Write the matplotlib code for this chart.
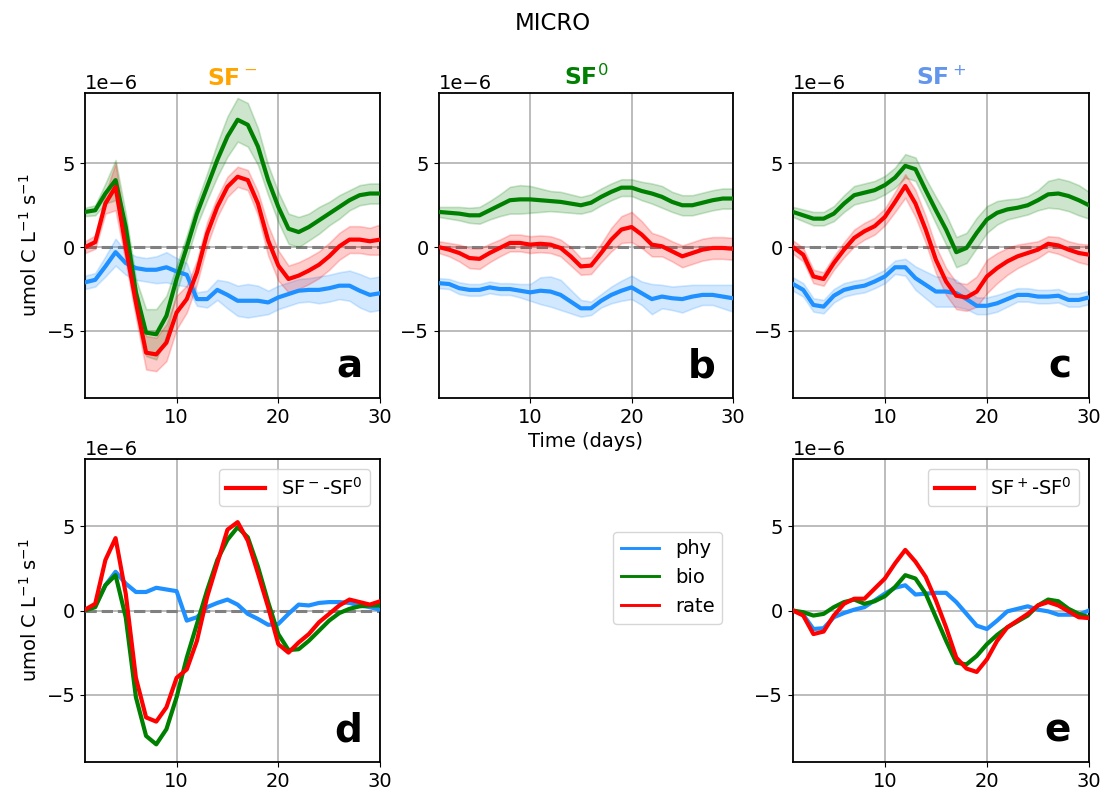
import numpy as np
import matplotlib
matplotlib.use("Agg")
import matplotlib.pyplot as plt
from matplotlib.lines import Line2D

days = np.arange(1, 31)

# ---- Panel a: SF-  (values in 1e-6 umol C L-1 s-1)
a_phy = [-2.1, -1.95, -1.15, -0.3, -0.95, -1.25, -1.35, -1.35, -1.2, -1.45, -1.65, -3.1, -3.1, -2.55, -2.85,
         -3.2, -3.2, -3.2, -3.3, -3.0, -2.8, -2.6, -2.55, -2.55, -2.45, -2.3, -2.3, -2.6, -2.85, -2.75]
a_bio = [2.1, 2.2, 3.2, 4.0, 1.2, -2.7, -5.1, -5.2, -4.1, -1.9, 0.0, 2.0, 3.6, 5.2, 6.6,
         7.6, 7.3, 6.0, 4.0, 2.4, 1.1, 0.9, 1.2, 1.6, 2.0, 2.4, 2.8, 3.1, 3.2, 3.2]
a_rate = [0.0, 0.3, 2.6, 3.6, 0.0, -3.3, -6.3, -6.4, -5.7, -3.9, -3.1, -1.5, 0.8, 2.4, 3.6,
          4.2, 4.0, 2.6, 0.4, -1.1, -1.9, -1.7, -1.4, -1.05, -0.55, 0.05, 0.45, 0.45, 0.35, 0.45]
a_phy_sd = [0.4, 0.4, 0.6, 0.8, 0.7, 0.7, 0.7, 0.8, 0.9, 0.8, 0.7, 0.4, 0.5, 0.6, 0.8,
            0.9, 1.0, 0.9, 0.7, 0.7, 0.7, 0.7, 0.7, 0.8, 0.8, 0.8, 0.9, 1.0, 1.0, 1.0]
a_bio_sd = [0.25, 0.3, 0.6, 1.2, 0.8, 0.8, 1.4, 1.5, 1.2, 0.8, 0.7, 0.7, 0.8, 1.0, 1.2,
            1.3, 1.3, 1.1, 0.9, 0.9, 0.9, 0.9, 0.8, 0.8, 0.7, 0.7, 0.6, 0.6, 0.6, 0.6]
a_rate_sd = [0.35, 0.4, 0.6, 1.4, 0.9, 0.9, 1.0, 1.0, 1.1, 1.0, 0.8, 0.7, 0.7, 0.6, 0.6,
             0.6, 0.6, 0.7, 0.9, 0.9, 0.8, 0.8, 0.8, 0.8, 0.8, 0.8, 0.8, 0.8, 0.8, 0.9]

# ---- Panel b: SF0
b_phy = [-2.15, -2.2, -2.45, -2.55, -2.55, -2.4, -2.5, -2.5, -2.6, -2.7, -2.6, -2.65, -2.85, -3.25, -3.65,
         -3.65, -3.2, -2.85, -2.6, -2.4, -2.75, -3.1, -2.95, -3.05, -3.1, -2.95, -2.85, -2.85, -2.95, -3.05]
b_bio = [2.1, 2.05, 2.0, 1.9, 1.9, 2.2, 2.5, 2.8, 2.85, 2.85, 2.8, 2.75, 2.7, 2.6, 2.5,
         2.65, 3.0, 3.3, 3.55, 3.55, 3.35, 3.2, 3.0, 2.7, 2.5, 2.5, 2.65, 2.8, 2.9, 2.9]
b_rate = [0.0, -0.15, -0.35, -0.65, -0.7, -0.35, -0.05, 0.25, 0.25, 0.15, 0.2, 0.15, -0.05, -0.55, -1.15,
          -1.1, -0.35, 0.45, 1.05, 1.2, 0.75, 0.15, 0.05, -0.25, -0.55, -0.35, -0.15, -0.05, -0.05, -0.1]
b_phy_sd = [0.3, 0.3, 0.35, 0.35, 0.35, 0.35, 0.35, 0.35, 0.4, 0.5, 0.8, 0.9, 0.9, 0.7, 0.5,
            0.4, 0.4, 0.5, 0.6, 0.7, 0.7, 0.9, 0.7, 0.7, 0.8, 0.7, 0.6, 0.6, 0.7, 0.8]
b_bio_sd = [0.3, 0.35, 0.4, 0.45, 0.5, 0.55, 0.65, 0.8, 0.85, 0.8, 0.7, 0.6, 0.6, 0.55, 0.5,
            0.5, 0.5, 0.5, 0.5, 0.5, 0.55, 0.6, 0.65, 0.6, 0.6, 0.6, 0.6, 0.6, 0.6, 0.6]
b_rate_sd = [0.35, 0.4, 0.5, 0.6, 0.6, 0.55, 0.5, 0.5, 0.5, 0.5, 0.5, 0.5, 0.5, 0.55, 0.5,
             0.5, 0.55, 0.7, 0.8, 0.9, 0.8, 0.7, 0.6, 0.6, 0.65, 0.65, 0.65, 0.65, 0.65, 0.65]

# ---- Panel c: SF+
c_phy = [-2.2, -2.55, -3.45, -3.55, -2.9, -2.55, -2.4, -2.3, -2.05, -1.75, -1.2, -1.2, -1.85, -2.25, -2.65,
         -2.65, -2.75, -3.1, -3.5, -3.5, -3.35, -3.1, -2.85, -2.85, -2.95, -2.95, -2.9, -3.15, -3.15, -3.0]
c_bio = [2.1, 1.9, 1.7, 1.7, 2.0, 2.6, 3.1, 3.25, 3.4, 3.7, 4.15, 4.85, 4.65, 3.4, 2.2,
         1.05, -0.3, -0.05, 0.85, 1.65, 2.05, 2.25, 2.35, 2.5, 2.8, 3.15, 3.2, 3.05, 2.8, 2.5]
c_rate = [0.0, -0.45, -1.75, -1.9, -0.95, -0.15, 0.55, 0.95, 1.25, 1.8, 2.7, 3.65, 2.6, 1.05, -0.75,
          -2.05, -2.9, -3.0, -2.65, -1.75, -1.25, -0.85, -0.55, -0.35, -0.15, 0.2, 0.1, -0.15, -0.35, -0.45]
c_phy_sd = [0.4, 0.4, 0.4, 0.4, 0.4, 0.4, 0.4, 0.4, 0.4, 0.4, 0.4, 0.5, 0.7, 0.8, 0.9,
            0.9, 0.8, 0.6, 0.5, 0.5, 0.5, 0.45, 0.4, 0.4, 0.4, 0.4, 0.4, 0.4, 0.4, 0.4]
c_bio_sd = [0.3, 0.35, 0.4, 0.4, 0.45, 0.5, 0.55, 0.55, 0.55, 0.55, 0.6, 0.7, 0.7, 0.7, 0.8,
            0.9, 0.9, 0.9, 0.9, 0.8, 0.7, 0.6, 0.55, 0.55, 0.6, 0.8, 0.9, 0.9, 0.9, 0.8]
c_rate_sd = [0.4, 0.4, 0.4, 0.4, 0.4, 0.45, 0.5, 0.5, 0.5, 0.5, 0.6, 0.7, 0.8, 0.8, 0.8,
             0.8, 0.8, 0.8, 0.9, 1.0, 0.9, 0.8, 0.7, 0.6, 0.5, 0.45, 0.5, 0.5, 0.55, 0.6]

# ---- Panel d: SF- - SF0
d_phy = [0.0, 0.3, 1.5, 2.3, 1.6, 1.1, 1.1, 1.35, 1.25, 1.15, -0.6, -0.4, 0.2, 0.45, 0.65,
         0.35, -0.2, -0.5, -0.85, -0.8, -0.2, 0.35, 0.3, 0.45, 0.5, 0.5, 0.45, 0.3, 0.2, 0.05]
d_bio = [0.0, 0.2, 1.5, 2.1, -0.4, -5.15, -7.45, -7.95, -7.05, -5.15, -2.8, -0.8, 1.2, 3.0, 4.2,
         4.95, 4.35, 2.6, 0.5, -1.4, -2.35, -2.3, -1.8, -1.2, -0.6, -0.15, 0.1, 0.25, 0.3, 0.3]
d_rate = [0.05, 0.4, 3.0, 4.3, 1.0, -4.0, -6.35, -6.6, -5.75, -4.0, -3.5, -1.8, 0.8, 2.8, 4.8,
          5.25, 4.15, 2.2, 0.2, -2.0, -2.5, -1.9, -1.4, -0.7, -0.2, 0.3, 0.65, 0.5, 0.35, 0.55]

# ---- Panel e: SF+ - SF0
e_phy = [0.0, -0.25, -1.1, -1.05, -0.4, -0.15, 0.05, 0.2, 0.6, 1.0, 1.35, 1.5, 0.95, 1.0, 1.05,
         1.05, 0.5, -0.2, -0.9, -1.1, -0.6, -0.05, 0.1, 0.25, 0.05, -0.05, -0.25, -0.25, -0.25, 0.0]
e_bio = [0.0, -0.1, -0.3, -0.2, 0.2, 0.5, 0.65, 0.4, 0.55, 0.85, 1.4, 2.1, 1.9, 1.0, -0.4,
         -1.8, -3.1, -3.2, -2.7, -2.0, -1.45, -1.0, -0.65, -0.3, 0.3, 0.65, 0.55, 0.1, -0.2, -0.4]
e_rate = [0.0, -0.3, -1.4, -1.25, -0.3, 0.4, 0.7, 0.7, 1.3, 1.9, 2.8, 3.6, 2.9, 2.0, 0.6,
          -1.0, -2.8, -3.45, -3.65, -2.9, -1.8, -1.0, -0.6, -0.2, 0.3, 0.5, 0.3, -0.05, -0.4, -0.45]

series_labels = ["phy", "bio", "rate"]
series_colors = ["#1E90FF", "green", "red"]
scale = 1e-6

plt.rcParams["font.size"] = 14
plt.rcParams["font.family"] = ["DejaVu Sans"]

fig = plt.figure(figsize=(11.06, 7.98), dpi=100)
fig.suptitle("MICRO", fontsize=16.5, y=0.985)

top_bottom, top_h = 0.5013, 0.3822
bot_bottom, bot_h = 0.0451, 0.3797
ax_a = fig.add_axes([0.0769, top_bottom, 0.2667, top_h])
ax_b = fig.add_axes([0.3969, top_bottom, 0.2658, top_h])
ax_c = fig.add_axes([0.7170, top_bottom, 0.2676, top_h])
ax_d = fig.add_axes([0.0769, bot_bottom, 0.2667, bot_h])
ax_e = fig.add_axes([0.7170, bot_bottom, 0.2676, bot_h])

top_panels = [
    (ax_a, [a_phy, a_bio, a_rate], [a_phy_sd, a_bio_sd, a_rate_sd], "SF$^-$", "orange", "a"),
    (ax_b, [b_phy, b_bio, b_rate], [b_phy_sd, b_bio_sd, b_rate_sd], "SF$^0$", "green", "b"),
    (ax_c, [c_phy, c_bio, c_rate], [c_phy_sd, c_bio_sd, c_rate_sd], "SF$^+$", "cornflowerblue", "c"),
]

for ax, vals, sds, title, tcol, letter in top_panels:
    ax.axhline(0, color="gray", ls="--", lw=2.2, zorder=1)
    for v, s, col, lab in zip(vals, sds, series_colors, series_labels):
        v = np.array(v) * scale
        s = np.array(s) * scale
        ax.fill_between(days, v - s, v + s, color=col, alpha=0.2, lw=1.2, zorder=2)
        ax.plot(days, v, color=col, lw=3, label=lab, zorder=3)
    ax.set_title(title, color=tcol, fontweight="bold", fontsize=16.8)
    ax.set_ylim(-9e-6, 9.2e-6)
    ax.text(0.94, 0.04, letter, transform=ax.transAxes, ha="right", va="bottom",
            fontsize=28, fontweight="bold")

bottom_panels = [
    (ax_d, [d_phy, d_bio, d_rate], "SF$^-$-SF$^0$", "d", True),
    (ax_e, [e_phy, e_bio, e_rate], "SF$^+$-SF$^0$", "e", False),
]
for ax, vals, leg, letter, zline in bottom_panels:
    if zline:
        ax.axhline(0, color="gray", ls="--", lw=2.2, zorder=1)
    lines = []
    for v, col, lab in zip(vals, series_colors, series_labels):
        h, = ax.plot(days, np.array(v) * scale, color=col, lw=3, zorder=3)
        lines.append(h)
    ax.legend([lines[2]], [leg], loc="upper right", fontsize=14)
    ax.set_ylim(-9e-6, 9e-6)
    ax.text(0.94, 0.04, letter, transform=ax.transAxes, ha="right", va="bottom",
            fontsize=28, fontweight="bold")

for ax in [ax_a, ax_b, ax_c, ax_d, ax_e]:
    ax.set_xlim(1, 30)
    ax.set_xticks([10, 20, 30])
    ax.set_yticks([-5e-6, 0, 5e-6])
    ax.grid(True, color="#b0b0b0", lw=1.2)
    ax.set_axisbelow(True)
    for sp in ax.spines.values():
        sp.set_linewidth(1.3)

ylab = "umol C L$^{-1}$ s$^{-1}$"
ax_a.set_ylabel(ylab)
ax_d.set_ylabel(ylab)
ax_b.set_xlabel("Time (days)")

legend_handles = [Line2D([0], [0], color=c, lw=2.1) for c in series_colors]
fig.legend(legend_handles, series_labels, loc="upper left",
           bbox_to_anchor=(603 / 1106, 1 - 522 / 798), fontsize=14)

fig.savefig("out.png", dpi=100)
